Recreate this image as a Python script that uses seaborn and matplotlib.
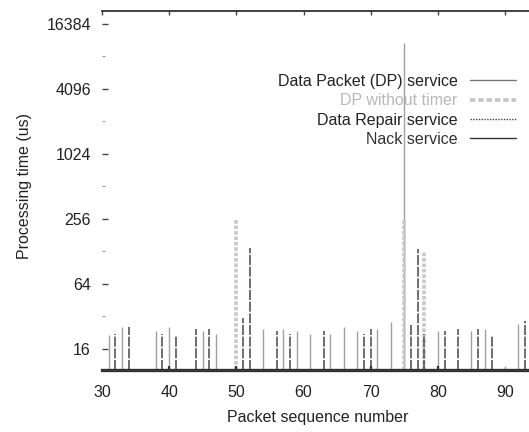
import matplotlib
matplotlib.use("Agg")
import matplotlib.pyplot as plt
import seaborn as sns
import numpy as np

# ---- data ----
dp_x = [31, 33, 38, 40, 45, 47, 54, 57, 59, 61, 64, 66, 68, 71, 73, 75, 80, 85, 87, 90, 92]
dp_y = [21.3, 25.4, 23.3, 25.4, 23.5, 22.1, 24.6, 24.6, 23.5, 22.1, 22.2, 25.4, 23.5, 24.2, 28.6, 10900, 23.5, 23.5, 24.4, 11.2, 27.4]

nt_x = [50, 75, 78]
nt_y = [248, 250, 130]

rep_x = [32, 34, 39, 41, 44, 46, 51, 52, 56, 58, 63, 69, 70, 76, 77, 78, 81, 83, 86, 88, 93]
rep_y = [22.2, 25.4, 22.2, 21.4, 24.6, 24.6, 31, 138, 23.5, 22.2, 23.5, 22.2, 24.4, 27.4, 135, 22.1, 23.5, 24.6, 24.6, 21.4, 29.2]

nack_x = [40, 50, 70, 80]
nack_y = [11.1, 11.1, 11.1, 11.1]

series_names = ["Data Packet (DP) service", "DP without timer", "Data Repair service", "Nack service"]

y_ticks = [16, 64, 256, 1024, 4096, 16384]
y_tick_labels = ["16", "64", "256", "1024", "4096", "16384"]
y_minor = [32, 128, 512, 2048, 8192]
x_ticks = [30, 40, 50, 60, 70, 80, 90]

# ---- style ----
sns.set_theme(style="white")
plt.rcParams["font.family"] = ["Liberation Sans", "DejaVu Sans"]
TXT = "#222222"

fig = plt.figure(figsize=(5.29, 4.32), dpi=100)
ax = fig.add_axes([102/529, 62/432, 1 - 102/529, (370 - 11)/432])

ymin, ymax = 10.2, 21600
ax.set_yscale("log", base=2)
ax.set_ylim(ymin, ymax)
ax.set_xlim(30, 93.57)

styles = [
    dict(color="#a0a0a0", lw=1.0, ls="-"),
    dict(color="#c8c8c8", lw=2.6, ls=(0, (1.0, 0.5))),
    dict(color="#555555", lw=1.2, ls=(0, (6, 1))),
    dict(color="#333333", lw=1.6, ls="-"),
]
data = [(dp_x, dp_y), (nt_x, nt_y), (rep_x, rep_y), (nack_x, nack_y)]
order = [1, 0, 2, 3]
for i in order:
    xs, ys = data[i]
    st = styles[i]
    ax.vlines(xs, ymin, ys, colors=st["color"], linewidth=st["lw"], linestyles=st["ls"], zorder=2 + i * 0.1)

# legend handles
from matplotlib.lines import Line2D
leg_styles = [
    dict(color="#777777", lw=1.0, ls="-"),
    dict(color="#c4c4c4", lw=2.6, ls=(0, (1.5, 0.8))),
    dict(color="#444444", lw=1.0, ls=(0, (1, 1))),
    dict(color="#333333", lw=1.0, ls="-"),
]
handles = [Line2D([0], [0], color=s["color"], lw=s["lw"], ls=s["ls"]) for s in leg_styles]
leg = ax.legend(handles, series_names, loc="upper right",
                bbox_to_anchor=(516/529, 1 - 74/432), bbox_transform=fig.transFigure,
                frameon=False, markerfirst=False, handlelength=2.9, handletextpad=0.75,
                labelspacing=0.27, borderpad=0, borderaxespad=0, fontsize=11.5)
leg.set_zorder(1.5)
text_colors = [TXT, "#b8b8b8", TXT, "#333333"]
for t, c in zip(leg.get_texts(), text_colors):
    t.set_color(c)

# ticks
ax.set_yticks(y_ticks)
ax.set_yticklabels(y_tick_labels)
ax.set_yticks(y_minor, minor=True)
ax.yaxis.set_minor_formatter(matplotlib.ticker.NullFormatter())
ax.set_xticks(x_ticks)
ax.set_xticklabels([str(v) for v in x_ticks])

ax.tick_params(axis="y", which="major", direction="in", length=4, width=1.0, color="#444444",
               pad=8, labelsize=11.5, labelcolor=TXT, left=True, right=False)
ax.tick_params(axis="y", which="minor", direction="in", length=2.5, width=0.8, color="#999999",
               left=True, right=False)
ax.tick_params(axis="x", which="major", direction="in", length=3, width=1.0, color="#444444",
               pad=10.5, labelsize=11.5, labelcolor=TXT, top=True, bottom=False)
ax.tick_params(axis="x", which="minor", bottom=False, top=False)

for s in ["left", "right"]:
    ax.spines[s].set_visible(False)
ax.spines["bottom"].set_color("#333333")
ax.spines["bottom"].set_linewidth(2.4)
ax.spines["top"].set_color("#333333")
ax.spines["top"].set_linewidth(1.3)
ax.grid(False)

ax.set_xlabel("Packet sequence number", fontsize=11.5, color=TXT)
ax.xaxis.set_label_coords(0.505, -0.112)
ax.set_ylabel("Processing time (us)", fontsize=11.5, color=TXT)
ax.yaxis.set_label_coords(-0.164, 0.513)

fig.savefig("out.png", dpi=100)
